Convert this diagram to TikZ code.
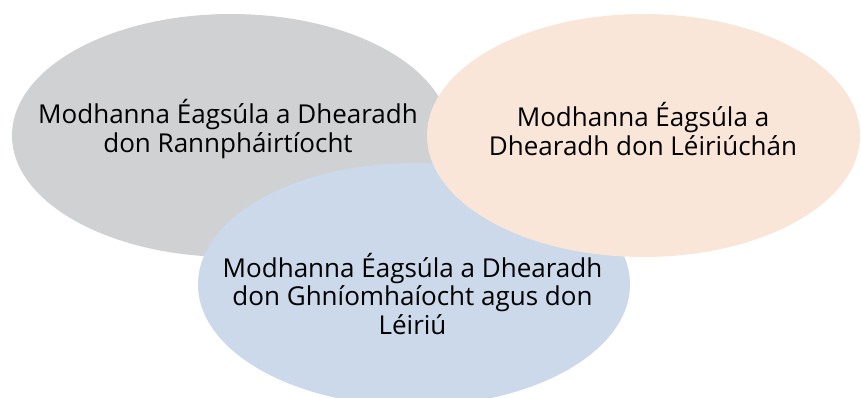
\documentclass[tikz,border=0pt]{standalone}
\usepackage{fontspec}
\setmainfont{Open Sans}
\definecolor{cgray}{HTML}{D0D1D3}
\definecolor{cpeach}{HTML}{FAE6D8}
\definecolor{cblue}{HTML}{CBD9EA}
\begin{document}
\begin{tikzpicture}[x=1pt,y=-1pt,
  lbl/.style={align=center,inner sep=0pt,font=\fontsize{26}{28.5}\selectfont,text=black}]
\useasboundingbox (0,0) rectangle (861,398);
\fill[cgray] (231,135.5) ellipse [x radius=219, y radius=121.5];
\fill[cblue] (414,284.5) ellipse [x radius=216, y radius=121.5];
\fill[cpeach] (643.5,135.5) ellipse [x radius=216.5, y radius=121.5];
\node[lbl] (g) at (228,129) {Modhanna Éagsúla a Dhearadh\\don Rannpháirtíocht};
\node[lbl] (p) at (643,129) {Modhanna Éagsúla a\\Dhearadh don Léiriúchán};
\node[lbl] (b) at (412.5,294) {Modhanna Éagsúla a Dhearadh\\don Ghníomhaíocht agus don\\Léiriú};
\end{tikzpicture}
\end{document}
